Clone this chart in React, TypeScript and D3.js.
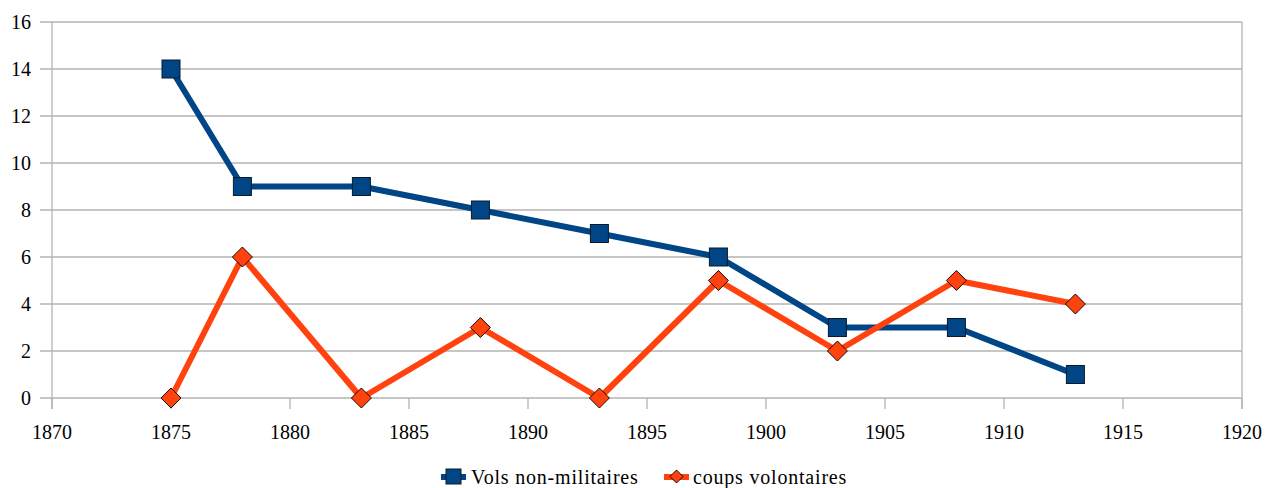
import React from "react";
import * as d3 from "d3";

const years = [1875, 1878, 1883, 1888, 1893, 1898, 1903, 1908, 1913];
const vols = [14, 9, 9, 8, 7, 6, 3, 3, 1];
const coups = [0, 6, 0, 3, 0, 5, 2, 5, 4];
const xTicks = [1870, 1875, 1880, 1885, 1890, 1895, 1900, 1905, 1910, 1915, 1920];
const yTicks = [0, 2, 4, 6, 8, 10, 12, 14, 16];
const seriesNames = ["Vols non-militaires", "coups volontaires"];

const W = 1268, H = 488;
const left = 52, right = 1242, top = 22, bottom = 398;
const blue = "#004586", orange = "#ff420e";
const ff = { fontFamily: "Liberation Serif" };

export default function App() {
  const x = d3.scaleLinear().domain([1870, 1920]).range([left, right]);
  const y = d3.scaleLinear().domain([0, 16]).range([bottom, top]);
  const line = d3.line<number>().x((_, i) => x(years[i])).y(d => y(d));
  const grid = "#b3b3b3";
  const sq = 18, dm = 10;
  const diamond = (cx: number, cy: number) =>
    `M${cx},${cy - dm}L${cx + dm},${cy}L${cx},${cy + dm}L${cx - dm},${cy}Z`;
  return (
    <svg width={W} height={H} fontFamily="Liberation Serif" style={{ position: "absolute", left: 0, top: 0, overflow: "hidden" }}>
      <style>{`text { font-family: "Liberation Serif", "Times New Roman", serif; }`}</style>
      <rect width={W} height={H} fill="#fff" />
      {yTicks.map(t => (
        <g key={t}>
          <line x1={left - 12} x2={right} y1={y(t)} y2={y(t)} stroke={grid} strokeWidth={1.3} />
          <text x={31} y={y(t) + 7} textAnchor="end" fontSize={20} style={ff}>{t}</text>
        </g>
      ))}
      <line x1={left} x2={left} y1={top} y2={bottom + 11} stroke={grid} strokeWidth={1.3} />
      <line x1={right} x2={right} y1={top} y2={bottom + 11} stroke={grid} strokeWidth={1.3} />
      {xTicks.map(t => (
        <g key={t}>
          <line x1={x(t)} x2={x(t)} y1={bottom} y2={bottom + 11} stroke={grid} strokeWidth={1.3} />
          <text x={x(t)} y={439} textAnchor="middle" fontSize={20} style={ff}>{t}</text>
        </g>
      ))}
      <path d={line(vols) || ""} fill="none" stroke={blue} strokeWidth={6} strokeLinejoin="round" />
      <path d={line(coups) || ""} fill="none" stroke={orange} strokeWidth={6} strokeLinejoin="round" />
      {vols.map((v, i) => (
        <rect key={"v" + i} x={x(years[i]) - sq / 2} y={y(v) - sq / 2} width={sq} height={sq} fill={blue} stroke="#0a1a2a" strokeWidth={1} />
      ))}
      {coups.map((v, i) => (
        <path key={"c" + i} d={diamond(x(years[i]), y(v))} fill={orange} stroke="#1a0a00" strokeWidth={1} />
      ))}
      <g>
        <line x1={441} x2={466} y1={477} y2={477} stroke={blue} strokeWidth={6} />
        <rect x={446} y={469} width={15} height={15} fill={blue} stroke="#0a1a2a" strokeWidth={1} />
        <text x={471} y={484} fontSize={20} letterSpacing={0.8} style={ff}>{seriesNames[0]}</text>
        <line x1={664} x2={689} y1={477} y2={477} stroke={orange} strokeWidth={6} />
        <path d={`M676.5,470L683,476.5L676.5,483L670,476.5Z`} fill={orange} stroke="#1a0a00" strokeWidth={1} />
        <text x={693} y={484} fontSize={20} letterSpacing={0.8} style={ff}>{seriesNames[1]}</text>
      </g>
    </svg>
  );
}
